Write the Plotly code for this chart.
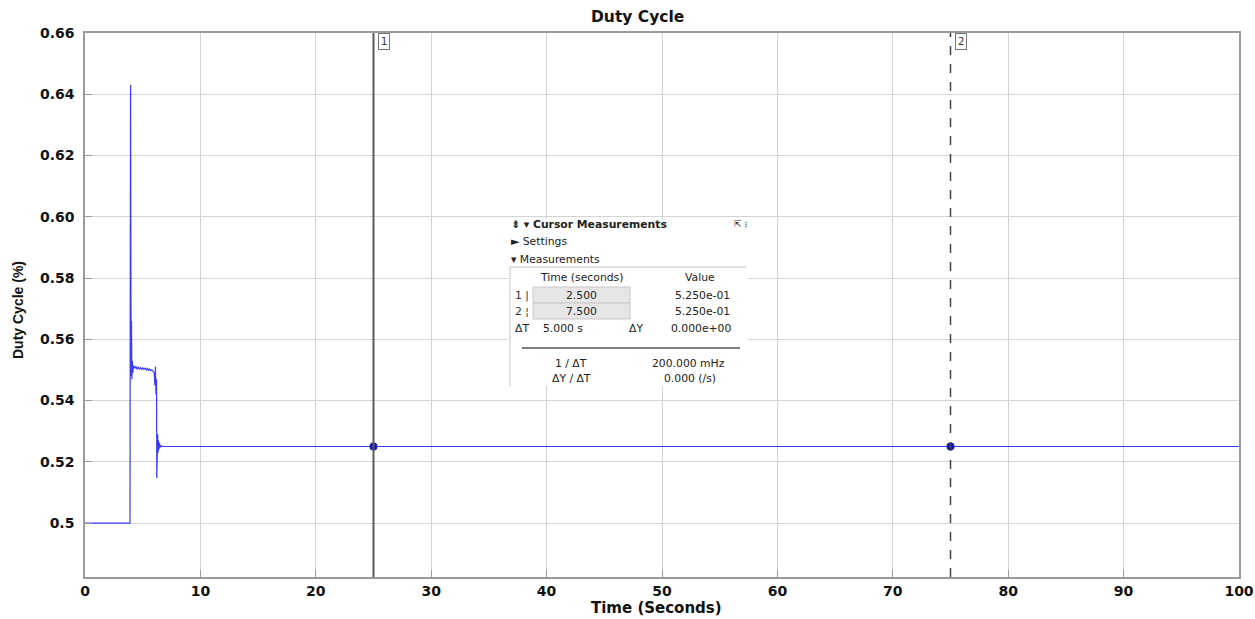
import plotly.graph_objects as go

# ---- signal data: duty cycle vs time ----
time_s = [0.0, 3.9, 3.92, 3.95, 3.98, 4.0, 4.03, 4.06, 4.1, 4.14, 4.2, 4.3, 4.4,
          4.5, 4.6, 4.7, 4.8, 4.9, 5.0, 5.1, 5.2, 5.3, 5.4, 5.5, 5.6, 5.7, 5.8,
          5.9, 6.0, 6.05, 6.1, 6.15, 6.2, 6.22, 6.25, 6.3, 6.33, 6.36, 6.4,
          6.45, 6.5, 6.6, 6.7, 100.0]
duty = [0.5, 0.5, 0.572, 0.643, 0.575, 0.548, 0.566, 0.547, 0.553, 0.549, 0.5515,
        0.5505, 0.5512, 0.5502, 0.5509, 0.5503, 0.5508, 0.5501, 0.5507, 0.5502,
        0.5506, 0.5500, 0.5505, 0.5499, 0.5503, 0.5498, 0.5500, 0.5494, 0.5490,
        0.5450, 0.5510, 0.5420, 0.5470, 0.5147, 0.5200, 0.5290, 0.5230, 0.5270,
        0.5240, 0.5262, 0.5247, 0.5253, 0.525, 0.525]

cursor_t = [25, 75]
cursor_y = [0.525, 0.525]
cursor_ids = ["1", "2"]

x_ticks = [0, 10, 20, 30, 40, 50, 60, 70, 80, 90, 100]
y_ticks = [0.5, 0.52, 0.54, 0.56, 0.58, 0.60, 0.62, 0.64, 0.66]
y_tick_text = ["0.5", "0.52", "0.54", "0.56", "0.58", "0.60", "0.62", "0.64", "0.66"]

# measurement panel contents
meas_time = ["2.500", "7.500"]
meas_value = ["5.250e-01", "5.250e-01"]
delta_t = "5.000 s"
delta_y = "0.000e+00"
inv_dt = "200.000 mHz"
dy_dt = "0.000 (/s)"

# ---- figure geometry (pixels) ----
W, H = 1255, 619
L, R, T, B = 85, 1239, 33, 577

def px(x):
    return (x - L) / (R - L)

def py(y):
    return (B - y) / (B - T)

fig = go.Figure()

fig.add_trace(go.Scatter(
    x=time_s, y=duty, mode="lines",
    line=dict(color="#3a3aff", width=1.2),
    hoverinfo="skip", showlegend=False,
))

fig.add_trace(go.Scatter(
    x=cursor_t, y=cursor_y, mode="markers",
    marker=dict(color="#1616b0", size=8),
    hoverinfo="skip", showlegend=False,
))

shapes = []
annotations = []

# cursor lines
shapes.append(dict(type="line", xref="x", yref="paper", x0=cursor_t[0], x1=cursor_t[0],
                   y0=0, y1=1, line=dict(color="#5a5a5a", width=2), layer="above"))
shapes.append(dict(type="line", xref="x", yref="paper", x0=cursor_t[1], x1=cursor_t[1],
                   y0=0, y1=1, line=dict(color="#444444", width=1.5, dash="dash"), layer="above"))

# cursor id tags
for t, cid in zip(cursor_t, cursor_ids):
    annotations.append(dict(
        x=t, y=1, xref="x", yref="paper", text=cid, showarrow=False,
        xanchor="left", yanchor="top", xshift=4,
        font=dict(family="DejaVu Sans", size=10, color="#333333"),
        bgcolor="white", bordercolor="#777777", borderwidth=1, borderpad=2,
    ))

# measurement panel background
shapes.append(dict(type="rect", xref="paper", yref="paper",
                   x0=px(508), x1=px(748), y0=py(386), y1=py(219),
                   fillcolor="white", line=dict(width=0), layer="above"))
# table borders
shapes.append(dict(type="line", xref="paper", yref="paper",
                   x0=px(510), x1=px(746), y0=py(267), y1=py(267),
                   line=dict(color="#c4c4c4", width=1), layer="above"))
shapes.append(dict(type="line", xref="paper", yref="paper",
                   x0=px(510), x1=px(510), y0=py(267), y1=py(386),
                   line=dict(color="#c4c4c4", width=1), layer="above"))
# shaded time cells
for y0, y1 in [(287, 303), (303, 319)]:
    shapes.append(dict(type="rect", xref="paper", yref="paper",
                       x0=px(533), x1=px(630), y0=py(y1), y1=py(y0),
                       fillcolor="#e6e6e6", line=dict(color="#c8c8c8", width=1), layer="above"))
# separator
shapes.append(dict(type="line", xref="paper", yref="paper",
                   x0=px(522), x1=px(740), y0=py(348), y1=py(348),
                   line=dict(color="#555555", width=1.3), layer="above"))

def note(text, x, y, anchor="left", size=10.8, bold=False, color="#222222", family="DejaVu Sans"):
    annotations.append(dict(
        x=px(x), y=py(y), xref="paper", yref="paper",
        text=f"<b>{text}</b>" if bold else text, showarrow=False,
        xanchor=anchor, yanchor="middle",
        font=dict(family=family, size=size, color=color),
    ))

note("⇟ ▾ Cursor Measurements", 509, 225, bold=True, size=10.8)
note("⇱ ⁝", 732, 224, size=9)
note("► Settings", 509, 242)
note("▾ Measurements", 509, 259)
note("Time (seconds)", 581, 277, anchor="center")
note("Value", 700, 277, anchor="center")
note("1 |", 513, 295, color="#333333")
note("2 ¦", 513, 311, color="#333333")
for i, yy in enumerate([295, 311]):
    note(meas_time[i], 581, yy, anchor="center")
    note(meas_value[i], 702, yy, anchor="center")
note("ΔT", 513, 328)
note(delta_t, 563, 328, anchor="center")
note("ΔY", 636, 328, anchor="center")
note(delta_y, 701, 328, anchor="center")
note("1 / ΔT", 571, 363, anchor="center")
note(inv_dt, 688, 363, anchor="center")
note("ΔY / ΔT", 571, 378, anchor="center")
note(dy_dt, 690, 378, anchor="center")

# axis titles and chart title
annotations.append(dict(x=px(656), y=py(608), xref="paper", yref="paper",
                        text="<b>Time (Seconds)</b>", showarrow=False,
                        xanchor="center", yanchor="middle",
                        font=dict(family="DejaVu Sans", size=15, color="#111111")))
annotations.append(dict(x=px(18), y=py(310), xref="paper", yref="paper",
                        text="<b>Duty Cycle (%)</b>", showarrow=False, textangle=-90,
                        xanchor="center", yanchor="middle",
                        font=dict(family="Liberation Sans", size=14, color="#111111")))
annotations.append(dict(x=px(637), y=py(17), xref="paper", yref="paper",
                        text="<b>Duty Cycle</b>", showarrow=False,
                        xanchor="center", yanchor="middle",
                        font=dict(family="DejaVu Sans", size=15.5, color="#111111")))

axis_common = dict(
    showgrid=True, gridcolor="#d4d4d4", gridwidth=1,
    showline=True, linecolor="#9a9a9a", linewidth=1.5, mirror=True,
    ticks="inside", ticklen=7, tickcolor="#9a9a9a", zeroline=False,
    tickfont=dict(family="DejaVu Sans", size=14, color="#111111"),
)

fig.update_layout(
    width=W, height=H,
    margin=dict(l=L, r=W - R, t=T, b=H - B, autoexpand=False),
    paper_bgcolor="white", plot_bgcolor="white",
    xaxis=dict(range=[0, 100], tickvals=x_ticks, automargin=False,
               ticktext=[f"<b>{v}</b>" for v in x_ticks], **axis_common),
    yaxis=dict(range=[0.4824, 0.66], tickvals=y_ticks, automargin=False,
               ticklabelstandoff=6,
               ticktext=[f"<b>{s}</b>" for s in y_tick_text], **axis_common),
    shapes=shapes, annotations=annotations,
)

fig.write_html("out.html")
